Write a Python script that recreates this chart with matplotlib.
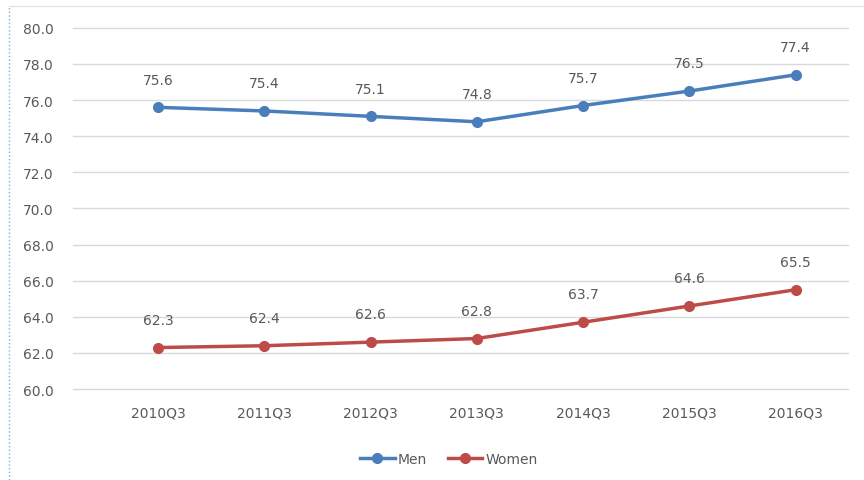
import matplotlib.pyplot as plt
from matplotlib.lines import Line2D

quarters = ["2010Q3", "2011Q3", "2012Q3", "2013Q3", "2014Q3", "2015Q3", "2016Q3"]
men = [75.6, 75.4, 75.1, 74.8, 75.7, 76.5, 77.4]
women = [62.3, 62.4, 62.6, 62.8, 63.7, 64.6, 65.5]

blue = "#4a7ebb"
red = "#be4b48"
grey = "#595959"

fig = plt.figure(figsize=(8.64, 4.81), dpi=100)
ax = fig.add_axes([0.0845, 0.189, 0.8965, 0.751])

x = list(range(len(quarters)))
ax.plot(x, men, color=blue, lw=2.5, marker="o", ms=7, label="Men")
ax.plot(x, women, color=red, lw=2.5, marker="o", ms=7, label="Women")

for i in x:
    ax.annotate(f"{men[i]:.1f}", (i, men[i]), xytext=(0, 20), textcoords="offset points",
                ha="center", va="center", fontsize=10, color=grey)
    ax.annotate(f"{women[i]:.1f}", (i, women[i]), xytext=(0, 20), textcoords="offset points",
                ha="center", va="center", fontsize=10, color=grey)

ax.set_ylim(60, 80)
ax.set_xlim(-0.8, 6.49)
ax.set_yticks(range(60, 81, 2))
ax.set_yticklabels([f"{v:.1f}" for v in range(60, 81, 2)])
ax.set_xticks(x)
ax.set_xticklabels(quarters)
ax.tick_params(length=0, labelsize=10, colors=grey, pad=12)
ax.tick_params(axis="y", pad=14)
ax.grid(axis="y", color="#d9d9d9", lw=1)
for gl in ax.get_ygridlines():
    gl.set_clip_on(False)
ax.set_axisbelow(True)
for s in ax.spines.values():
    s.set_visible(False)

ax.legend(loc="upper center", bbox_to_anchor=(0.485, -0.14), ncol=2, frameon=False,
          fontsize=10, labelcolor=grey, handlelength=2.5, columnspacing=1.5, handletextpad=0.2)

fig.add_artist(Line2D([9 / 864, 9 / 864], [0, 0.985], color="#7fb2d9", lw=1, ls=":"))
fig.add_artist(Line2D([9 / 864, 1], [0.985, 0.985], color="#e6e6e6", lw=1))

fig.savefig("out.png", dpi=100)
